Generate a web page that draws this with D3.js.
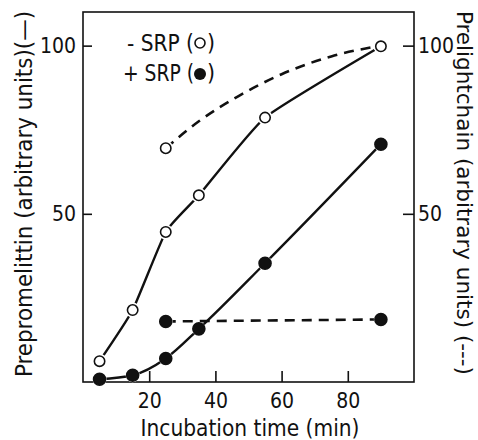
<!doctype html>
<html lang="en">
<head>
<meta charset="utf-8">
<script src="https://d3js.org/d3.v7.min.js"></script>
<style>
  body { margin: 0; background: #fff; }
  svg text { font-family: "DejaVu Sans Condensed", "DejaVu Sans", sans-serif; font-stretch: condensed; fill: #111; }
  .axis path, .axis line { stroke: #111; stroke-width: 1.6; }
</style>
</head>
<body>
<div id="chart"></div>
<script>
// incubation times (min)
var times = [5, 15, 25, 35, 55, 90];
// prepromellitin, - SRP (open circles, solid line)
var minusSrp = [6.2, 21.4, 44.6, 55.5, 78.6, 99.8];
// prepromellitin, + SRP (filled circles, solid line)
var plusSrp = [0.8, 2, 7, 15.8, 35.3, 70.7];
// prelightchain (dashed lines), markers only at the ends
var chainTimes = [25, 90];
var chainMinus = [69.5, 100];
var chainPlus = [18, 18.6];
// shape of the dashed - SRP curve
var chainMinusPathX = [25, 35, 47, 60, 75, 90];
var chainMinusPathY = [69.5, 77.5, 85, 91.5, 96.8, 100];

var xTicks = [20, 40, 60, 80];
var yTicks = [50, 100];

var width = 478, height = 440;
var svg = d3.select("#chart").append("svg")
    .attr("width", width).attr("height", height);

var x = d3.scaleLinear().domain([0, 100]).range([83, 414]);
var y = d3.scaleLinear().domain([0, 110]).range([382, 12]);

// frame
svg.append("rect")
    .attr("x", x(0)).attr("y", y(110))
    .attr("width", x(100) - x(0)).attr("height", y(0) - y(110))
    .attr("fill", "none").attr("stroke", "#111").attr("stroke-width", 1.6);

svg.append("g").attr("class", "axis")
    .attr("transform", "translate(0," + y(0) + ")")
    .call(d3.axisBottom(x).tickValues(xTicks).tickSize(-11).tickPadding(11).tickSizeOuter(0))
    .call(g => g.select(".domain").remove())
    .selectAll("text").style("font-size", "21px");

svg.append("g").attr("class", "axis")
    .attr("transform", "translate(" + x(0) + ",0)")
    .call(d3.axisLeft(y).tickValues(yTicks).tickSize(-9).tickPadding(7).tickSizeOuter(0))
    .call(g => g.select(".domain").remove())
    .selectAll("text").style("font-size", "21px");

svg.append("g").attr("class", "axis")
    .attr("transform", "translate(" + x(100) + ",0)")
    .call(d3.axisRight(y).tickValues(yTicks).tickSize(-11).tickPadding(4).tickSizeOuter(0))
    .call(g => g.select(".domain").remove())
    .selectAll("text").style("font-size", "21px");

function pts(xs, ys) { return xs.map((t, i) => [x(t), y(ys[i])]); }

// solid curves
svg.append("path").attr("d", d3.line().curve(d3.curveCardinal.tension(0.55))(pts(times, minusSrp)))
    .attr("fill", "none").attr("stroke", "#111").attr("stroke-width", 2.4);
svg.append("path").attr("d", d3.line().curve(d3.curveMonotoneX)(pts(times, plusSrp)))
    .attr("fill", "none").attr("stroke", "#111").attr("stroke-width", 2.4);

// dashed curves
svg.append("path").attr("d", d3.line().curve(d3.curveMonotoneX)(pts(chainMinusPathX, chainMinusPathY)))
    .attr("fill", "none").attr("stroke", "#111").attr("stroke-width", 2.6)
    .attr("stroke-dasharray", "10,7");
svg.append("path").attr("d", d3.line()(pts(chainTimes, chainPlus)))
    .attr("fill", "none").attr("stroke", "#111").attr("stroke-width", 2.6)
    .attr("stroke-dasharray", "10,7");

// markers (white halo gives the small gap where lines meet a symbol)
function markers(xs, ys, filled) {
    var g = svg.append("g");
    var data = xs.map((t, i) => [t, ys[i]]);
    g.selectAll("circle.halo").data(data).join("circle").attr("class", "halo")
        .attr("cx", d => x(d[0])).attr("cy", d => y(d[1]))
        .attr("r", filled ? 7 : 7.5).attr("fill", "#fff");
    g.selectAll("circle.mark").data(data).join("circle").attr("class", "mark")
        .attr("cx", d => x(d[0])).attr("cy", d => y(d[1]))
        .attr("r", filled ? 6 : 5.2)
        .attr("fill", filled ? "#111" : "#fff")
        .attr("stroke", "#111").attr("stroke-width", 1.6);
}
markers(chainTimes, chainMinus, false);
markers(times, minusSrp, false);
markers(chainTimes, chainPlus, true);
markers(times, plusSrp, true);

// squeeze a text to the width it has in the reference
function fit(sel, len) {
    return sel.attr("textLength", len).attr("lengthAdjust", "spacingAndGlyphs");
}

// legend
var leg = svg.append("g").style("font-size", "23px");
fit(leg.append("text").attr("x", 127).attr("y", 51).text("- SRP ("), 67);
leg.append("circle").attr("cx", 200).attr("cy", 43).attr("r", 5)
    .attr("fill", "#fff").attr("stroke", "#111").attr("stroke-width", 1.6);
leg.append("text").attr("x", 207).attr("y", 51).text(")");
fit(leg.append("text").attr("x", 123).attr("y", 81).text("+ SRP ("), 71);
leg.append("circle").attr("cx", 200).attr("cy", 74).attr("r", 6).attr("fill", "#111");
leg.append("text").attr("x", 207).attr("y", 81).text(")");

// axis titles
fit(svg.append("text")
    .attr("x", 250).attr("y", 436)
    .attr("text-anchor", "middle").style("font-size", "23px")
    .text("Incubation time (min)"), 219);

fit(svg.append("text")
    .attr("transform", "translate(32,194) rotate(-90)")
    .attr("text-anchor", "middle").style("font-size", "23px")
    .text("Prepromelittin (arbitrary units)(—)"), 366);

fit(svg.append("text")
    .attr("transform", "translate(457,193) rotate(90)")
    .attr("text-anchor", "middle").style("font-size", "22px")
    .text("Prelightchain (arbitrary units) (---)"), 364);
</script>
</body>
</html>
